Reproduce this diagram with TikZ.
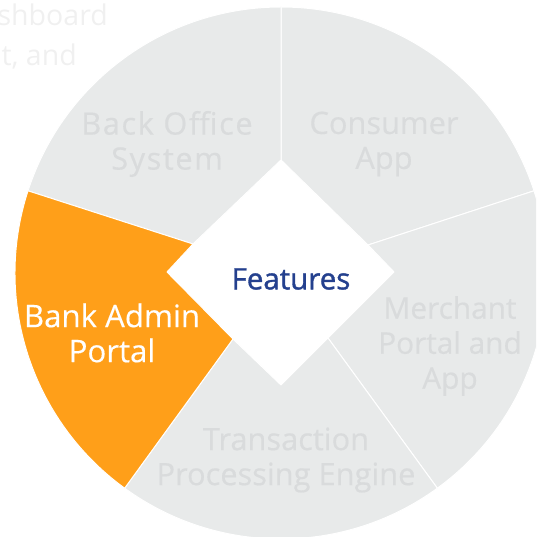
\documentclass[tikz,border=0pt]{standalone}
\usepackage{fontspec}
\setmainfont{Open Sans}[FakeBold=0.25]
\newfontfamily\featfont{Open Sans}[FakeBold=1.2]
\newfontfamily\widefont{Open Sans}[FakeBold=0.25,LetterSpace=5]
\newfontfamily\fadefont{Open Sans}
\definecolor{sectorgray}{HTML}{E8EAEA}
\definecolor{labelgray}{HTML}{D9DBDC}
\definecolor{sectororange}{HTML}{FF9F19}
\definecolor{featblue}{HTML}{24408E}
\definecolor{fadetext}{HTML}{F0F0F0}
\tikzset{
  sector/.style={fill=sectorgray,draw=white,line width=1pt,line join=round},
  activesector/.style={fill=sectororange,draw=white,line width=1pt,line join=round},
  seclabel/.style={font=\fontsize{30.8}{35}\selectfont,text=labelgray,align=center,inner sep=0pt},
  activelabel/.style={seclabel,text=white},
  fadelabel/.style={font=\fadefont\fontsize{28.5}{30}\selectfont,text=fadetext,anchor=base east,inner sep=0pt}
}
\begin{document}
\begin{tikzpicture}[x=1pt,y=1pt]
\useasboundingbox (0,0) rectangle (536,537);
\clip (0,0) rectangle (536,537);
\coordinate (c) at (281,264);
\def\R{266pt}
\coordinate (dT) at (281,377);
\coordinate (dR) at (394,265);
\coordinate (dB) at (281,152);
\coordinate (dL) at (167,265);
\coordinate (iB) at (368,292);
\coordinate (iC) at (328,199);
\coordinate (iD) at (233,198);
\coordinate (iE) at (193,293);
% sectors
\draw[sector] (dT) -- ([shift={(90:\R)}]c) arc[start angle=90,end angle=18,radius=\R] -- (iB) -- cycle;
\draw[sector] (iB) -- ([shift={(18:\R)}]c) arc[start angle=18,end angle=-54,radius=\R] -- (iC) -- (dR) -- cycle;
\draw[sector] (iC) -- ([shift={(-54:\R)}]c) arc[start angle=-54,end angle=-126,radius=\R] -- (iD) -- (dB) -- cycle;
\draw[sector] (iE) -- ([shift={(162:\R)}]c) arc[start angle=162,end angle=90,radius=\R] -- (dT) -- cycle;
\draw[activesector] (iD) -- ([shift={(234:\R)}]c) arc[start angle=234,end angle=162,radius=\R] -- (iE) -- (dL) -- cycle;
% centre
\fill[white] (dT) -- (dR) -- (dB) -- (dL) -- cycle;
\node[font=\featfont\fontsize{29.5}{34}\selectfont,text=featblue,inner sep=0pt] (features) at (291,258) {Features};
% labels
\node[seclabel,font=\widefont\fontsize{30.8}{35}\selectfont] (backoffice) at (167,393) {Back Office\\System};
\node[seclabel] (consumer) at (384,393) {Consumer\\App};
\node[seclabel,font=\fontsize{29.8}{35}\selectfont] (merchant) at (450,191) {Merchant\\Portal and\\App};
\node[seclabel] (transaction) at (286,77) {Transaction\\Processing Engine};
\node[activelabel,font=\fontsize{31.2}{35}\selectfont] (bank) at (112,204) {Bank Admin\\Portal};
\node[fadelabel] (fadeA) at (108,511) {shboard};
\node[fadelabel] (fadeB) at (77,471) {t, and};
\end{tikzpicture}
\end{document}
